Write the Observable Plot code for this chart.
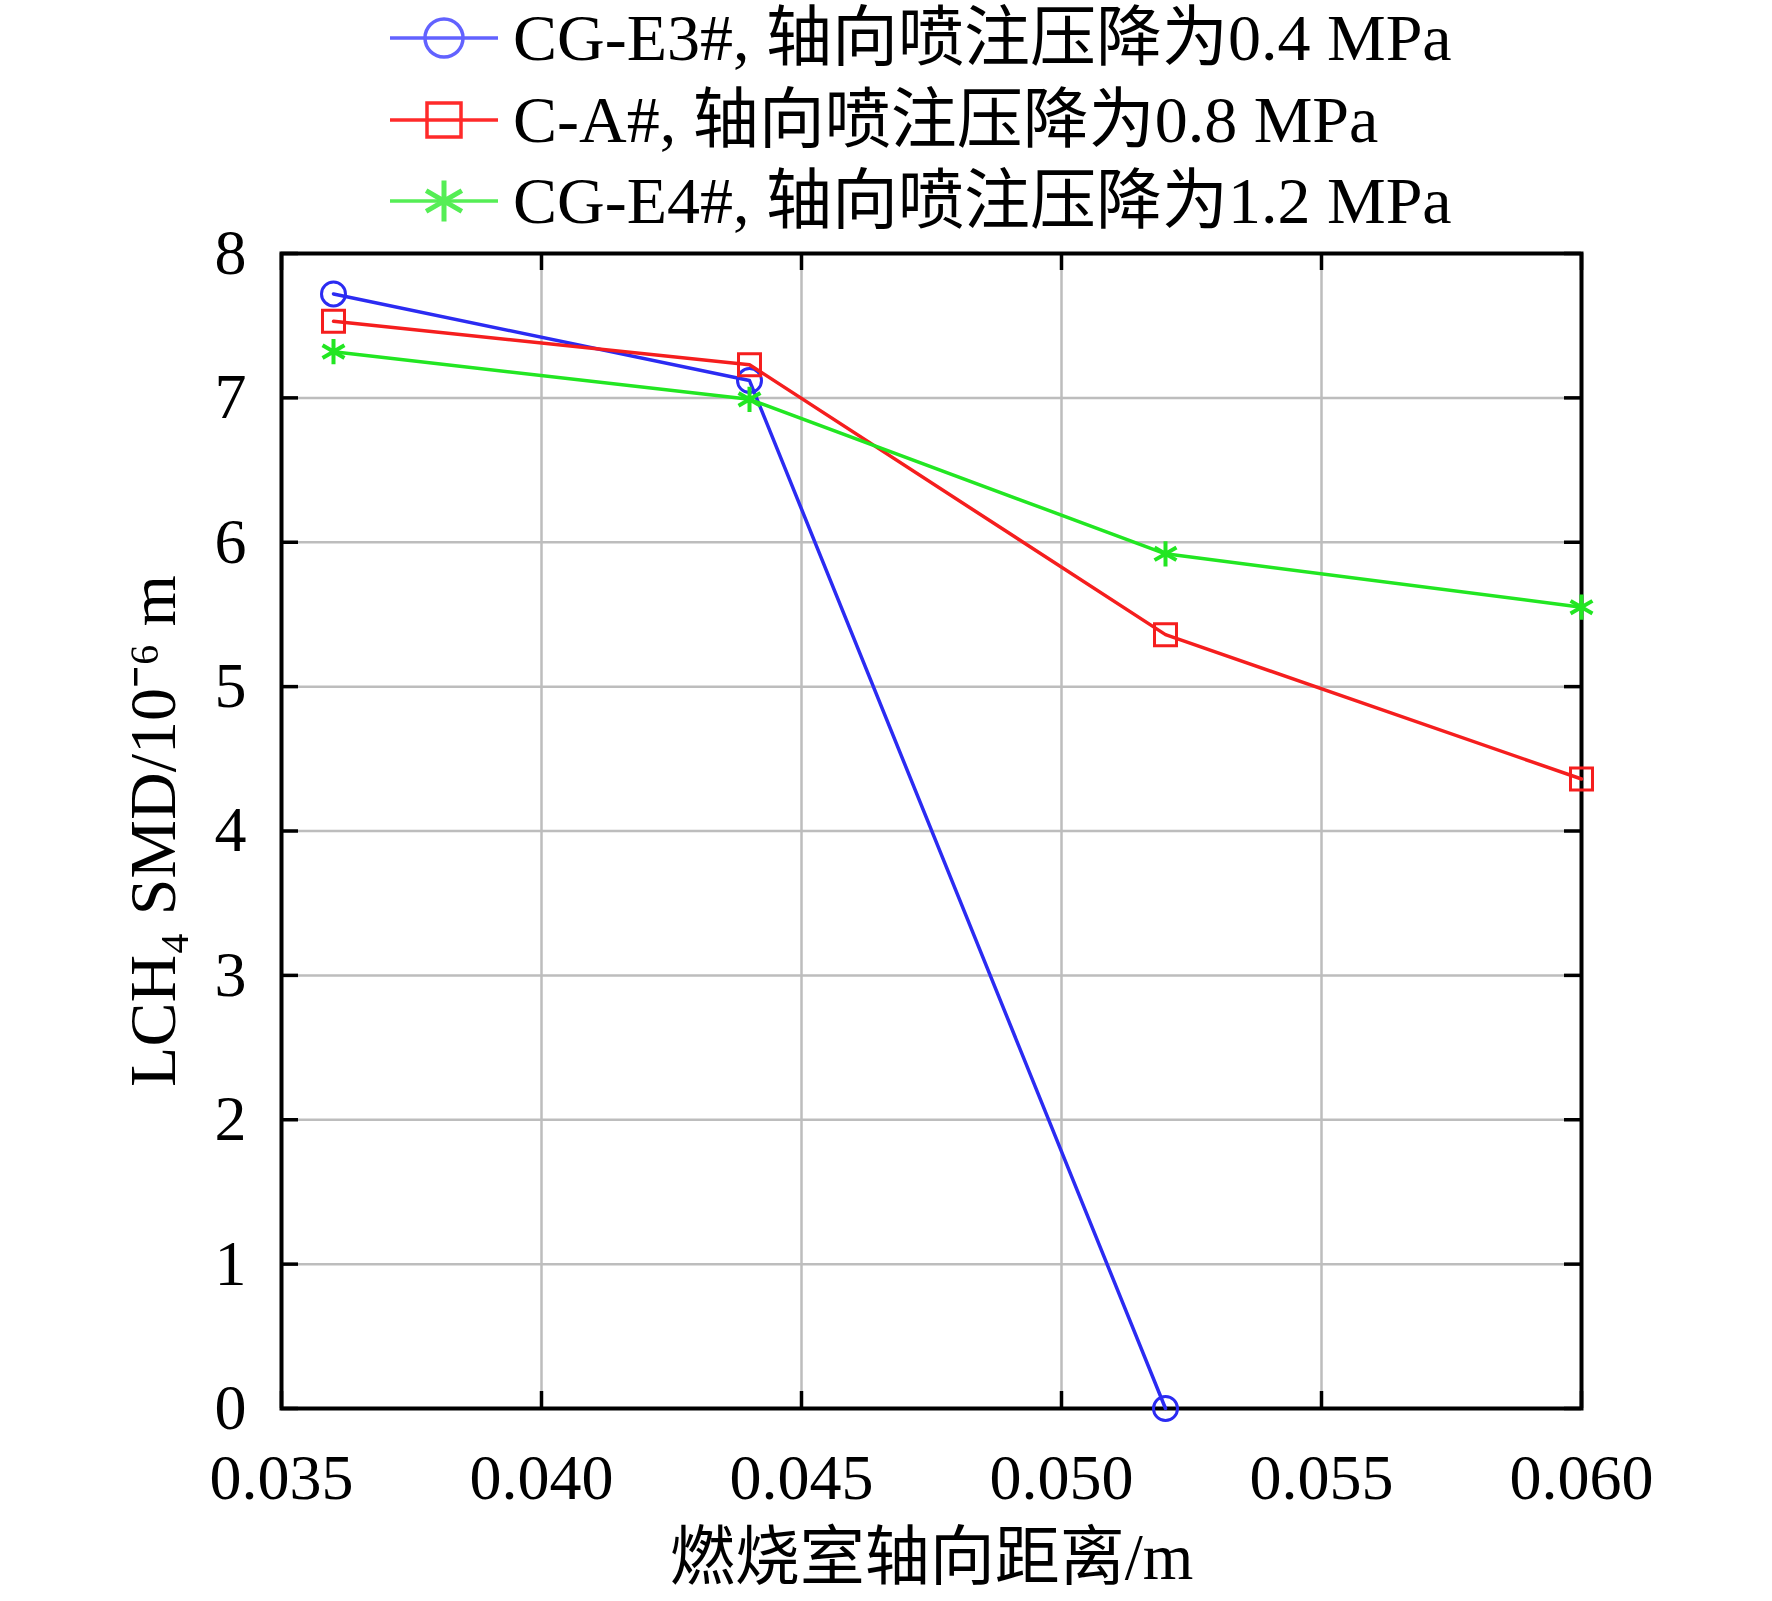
<!DOCTYPE html>
<html>
<head>
<meta charset="utf-8">
<script src="https://cdn.jsdelivr.net/npm/d3@7"></script>
<script src="https://cdn.jsdelivr.net/npm/@observablehq/plot@0.6"></script>
<style>
  html, body { margin: 0; padding: 0; background: #fff; }
  #wrap { width: 1772px; position: relative; font-family: "Liberation Serif", "Noto Sans CJK SC", serif; }
  #legend { position: relative; height: 170px; overflow: visible; z-index: 2; }
  .row { position: absolute; left: 385px; height: 82px; display: flex; align-items: center; }
  .row span { font-size: 66px; line-height: 82px; color: #000; margin-left: 8px; white-space: nowrap; }
  #chart svg { display: block; }
</style>
</head>
<body>
<div id="wrap">
  <div id="legend"></div>
  <div id="chart"></div>
</div>
<script>
// ---- data ----
const seriesNames = ["CG-E3#, 轴向喷注压降为0.4 MPa", "C-A#, 轴向喷注压降为0.8 MPa", "CG-E4#, 轴向喷注压降为1.2 MPa"];
const xBlue = [0.036, 0.044, 0.052];
const yBlue = [7.72, 7.12, 0.0];
const xRed = [0.036, 0.044, 0.052, 0.060];
const yRed = [7.53, 7.23, 5.36, 4.36];
const xGreen = [0.036, 0.044, 0.052, 0.060];
const yGreen = [7.32, 6.99, 5.92, 5.55];
const xTicks = [0.035, 0.040, 0.045, 0.050, 0.055, 0.060];
const yTicks = [0, 1, 2, 3, 4, 5, 6, 7, 8];
const xLabel = "燃烧室轴向距离/m";
const yLabel = "LCH₄ SMD/10⁻⁶ m";

const colors = ["#2b2bf2", "#f51e1e", "#22e622"];
const legendColors = ["#6262ff", "#ff2a2a", "#55ee55"];
const symbols = ["circle", "square", "asterisk"];

const toRows = (xs, ys) => xs.map((x, i) => ({x, y: ys[i]}));
const blue = toRows(xBlue, yBlue);
const red = toRows(xRed, yRed);
const green = toRows(xGreen, yGreen);

// ---- layout ----
const W = 1772, H = 1431;
const mL = 281, mR = 191, mT = 83, mB = 193;
const plotW = W - mL - mR, plotH = H - mT - mB;
const tickLen = 17;

const chart = Plot.plot({
  width: W, height: H,
  marginLeft: mL, marginRight: mR, marginTop: mT, marginBottom: mB,
  style: {fontFamily: "'Liberation Serif', 'Noto Sans CJK SC', serif", fontSize: "64px", color: "#000", background: "transparent"},
  x: {domain: [0.035, 0.060]},
  y: {domain: [0, 8]},
  marks: [
    Plot.gridX(xTicks, {stroke: "#bdbdbd", strokeOpacity: 1, strokeWidth: 2.5}),
    Plot.gridY(yTicks, {stroke: "#bdbdbd", strokeOpacity: 1, strokeWidth: 2.5}),
    Plot.ruleX(xTicks, {x: d => d, insetTop: plotH - tickLen, stroke: "#000", strokeWidth: 3.5}),
    Plot.ruleX(xTicks, {x: d => d, insetBottom: plotH - tickLen, stroke: "#000", strokeWidth: 3.5}),
    Plot.ruleY(yTicks, {y: d => d, insetRight: plotW - tickLen, stroke: "#000", strokeWidth: 3.5}),
    Plot.ruleY(yTicks, {y: d => d, insetLeft: plotW - tickLen, stroke: "#000", strokeWidth: 3.5}),
    Plot.frame({stroke: "#000", strokeWidth: 4}),
    Plot.axisX(xTicks, {anchor: "bottom", tickSize: 0, tickPadding: 45, tickFormat: d3.format(".3f"), fontSize: 64, label: null}),
    Plot.axisY(yTicks, {anchor: "left", tickSize: 0, tickPadding: 35, tickFormat: d => String(d), fontSize: 64, label: null}),
    Plot.line(blue, {x: "x", y: "y", stroke: colors[0], strokeWidth: 3.5}),
    Plot.dot(blue, {x: "x", y: "y", r: 12, symbol: symbols[0], stroke: colors[0], fill: "none", strokeWidth: 3}),
    Plot.line(red, {x: "x", y: "y", stroke: colors[1], strokeWidth: 3.5}),
    Plot.dot(red, {x: "x", y: "y", r: 12.4, symbol: symbols[1], stroke: colors[1], fill: "none", strokeWidth: 3}),
    Plot.line(green, {x: "x", y: "y", stroke: colors[2], strokeWidth: 3.5}),
    Plot.dot(green, {x: "x", y: "y", r: 12, symbol: symbols[2], stroke: colors[2], fill: "none", strokeWidth: 4}),
    Plot.text([yLabel], {text: d => d, frameAnchor: "left", dx: -128, rotate: -90, textAnchor: "middle", lineAnchor: "middle", fontSize: 66, fill: "#000"}),
    Plot.text([xLabel], {text: d => d, frameAnchor: "bottom", dy: 150, textAnchor: "middle", lineAnchor: "middle", fontSize: 65, fill: "#000"})
  ]
});
document.getElementById("chart").appendChild(chart);

// ---- legend ----
const legend = d3.select("#legend");
const rowCenters = [38, 120, 201];
seriesNames.forEach((name, i) => {
  const row = legend.append("div").attr("class", "row").style("top", (rowCenters[i] - 41) + "px");
  const svg = row.append("svg").attr("width", 120).attr("height", 82);
  svg.append("line").attr("x1", 5).attr("x2", 113).attr("y1", 41).attr("y2", 41)
    .attr("stroke", legendColors[i]).attr("stroke-width", 3.5);
  const sym = {circle: d3.symbolCircle, square: d3.symbolSquare, asterisk: d3.symbolAsterisk}[symbols[i]];
  const size = symbols[i] === "square" ? 34 * 34 : (symbols[i] === "circle" ? Math.PI * 19 * 19 : 1200);
  svg.append("path").attr("d", d3.symbol(sym, size)()).attr("transform", "translate(59,41)")
    .attr("fill", "none").attr("stroke", legendColors[i]).attr("stroke-width", symbols[i] === "asterisk" ? 5 : 3.5);
  row.append("span").text(name);
});
</script>
</body>
</html>
